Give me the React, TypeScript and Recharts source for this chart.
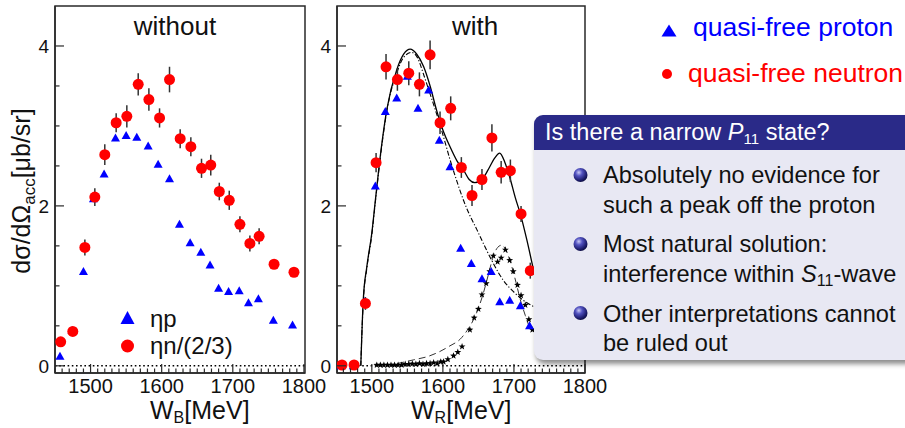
import React from 'react'
import {
  ComposedChart, Scatter, Line, XAxis, YAxis, ErrorBar, ReferenceLine, ReferenceArea,
} from 'recharts'

const FONT = '"Liberation Sans", Arial, Helvetica, sans-serif'
const AXIS = '#2a2a2a'
const BLUE = '#0000ff'
const RED = '#ff0000'

// ---- "without" panel (W_B) ----
const WB_P_X = [1457, 1474, 1490, 1504, 1519, 1535, 1550, 1565, 1581, 1595, 1611, 1625, 1640, 1655, 1668, 1680, 1694, 1709, 1722, 1736, 1757, 1784]
const WB_P_Y = [0.12, 0.44, 1.18, 2.09, 2.40, 2.85, 2.88, 2.86, 2.75, 2.52, 2.34, 1.77, 1.54, 1.42, 1.26, 0.97, 0.93, 0.94, 0.79, 0.84, 0.57, 0.51]
const WB_N_X = [1458, 1475, 1492, 1506, 1520, 1536, 1551, 1567, 1582, 1597, 1611, 1626, 1641, 1656, 1669, 1681, 1695, 1710, 1724, 1737, 1758, 1786]
const WB_N_Y = [0.30, 0.43, 1.48, 2.11, 2.64, 3.04, 3.12, 3.52, 3.33, 3.10, 3.58, 2.84, 2.74, 2.47, 2.51, 2.18, 2.07, 1.77, 1.53, 1.62, 1.27, 1.17]
const WB_N_E = [0.03, 0.03, 0.10, 0.11, 0.13, 0.12, 0.14, 0.14, 0.14, 0.12, 0.16, 0.12, 0.12, 0.12, 0.13, 0.11, 0.12, 0.10, 0.10, 0.10, 0.06, 0.06]

// ---- "with" panel (W_R) ----
const WR_P_X = [1457, 1474, 1490, 1505, 1519, 1535, 1550, 1565, 1580, 1595, 1610, 1625, 1640, 1655, 1668, 1680, 1694, 1709, 1722]
const WR_P_Y = [0.0, 0.0, 0.80, 2.25, 3.18, 3.35, 3.62, 3.22, 3.45, 2.82, 2.49, 1.47, 1.28, 1.09, 1.18, 0.80, 0.82, 0.75, 0.50]
const WR_N_X = [1458, 1475, 1491, 1506, 1520, 1536, 1552, 1567, 1582, 1596, 1611, 1626, 1641, 1655, 1669, 1682, 1695, 1710, 1723]
const WR_N_Y = [0.01, 0.01, 0.78, 2.54, 3.74, 3.58, 3.66, 3.52, 3.89, 3.04, 3.22, 2.48, 2.13, 2.33, 2.85, 2.42, 2.44, 1.90, 1.19]
const WR_N_E = [0.02, 0.02, 0.08, 0.12, 0.16, 0.14, 0.15, 0.15, 0.18, 0.14, 0.15, 0.13, 0.13, 0.13, 0.17, 0.14, 0.14, 0.10, 0.10]

// fit curves
const FULL_X = [1484.5, 1486, 1488, 1493, 1500, 1505, 1513, 1521, 1535, 1545, 1554, 1563, 1573, 1582, 1591, 1600, 1610, 1620, 1629, 1637, 1645, 1655, 1666, 1673, 1680, 1687, 1695, 1702, 1709, 1718, 1727]
const FULL_Y = [0, 0.4, 0.83, 1.24, 1.66, 2.07, 2.7, 3.2, 3.7, 3.9, 3.96, 3.9, 3.74, 3.5, 3.2, 2.95, 2.74, 2.56, 2.45, 2.33, 2.29, 2.33, 2.49, 2.6, 2.66, 2.55, 2.33, 2.1, 1.9, 1.58, 1.22]
const S11_X = [1484.5, 1486, 1488, 1493, 1500, 1505, 1513, 1521, 1535, 1545, 1556, 1565, 1573, 1582, 1594, 1602, 1610, 1620, 1629, 1638, 1648, 1657, 1671, 1685, 1699, 1713, 1730]
const S11_Y = [0, 0.4, 0.8, 1.22, 1.64, 2.05, 2.68, 3.18, 3.66, 3.86, 3.92, 3.84, 3.64, 3.4, 3.07, 2.83, 2.58, 2.3, 2.07, 1.88, 1.7, 1.53, 1.28, 1.07, 0.93, 0.82, 0.73]
const P11_X = [1505, 1530, 1559, 1580, 1596, 1610, 1624, 1634, 1643, 1650, 1657, 1664, 1671, 1677, 1683, 1690, 1697, 1703, 1709, 1716, 1723]
const P11_Y = [0, 0.02, 0.075, 0.12, 0.18, 0.25, 0.33, 0.44, 0.575, 0.72, 0.91, 1.14, 1.37, 1.48, 1.51, 1.42, 1.24, 1.04, 0.825, 0.63, 0.45]
const STAR_X = [1507, 1512, 1517, 1522, 1527, 1532, 1537, 1542, 1547, 1552, 1557, 1562, 1567, 1572, 1577, 1582, 1587, 1592, 1597, 1601, 1607, 1615, 1621, 1627, 1638, 1644, 1650, 1655, 1661, 1666, 1671, 1677, 1682, 1688, 1694, 1699, 1705, 1710, 1716, 1721, 1726]
const STAR_Y = [0.01, 0.01, 0.01, 0.01, 0.01, 0.01, 0.01, 0.01, 0.02, 0.02, 0.025, 0.02, 0.03, 0.02, 0.03, 0.03, 0.04, 0.03, 0.05, 0.05, 0.08, 0.125, 0.17, 0.24, 0.45, 0.6, 0.71, 0.89, 1.03, 1.18, 1.375, 1.3, 1.35, 1.45, 1.32, 1.18, 1.01, 0.88, 0.76, 0.58, 0.45]

const X_MAJOR = [1500, 1600, 1700, 1800]
const Y_MAJOR = [0, 2, 4]
const Y_DOMAIN: [number, number] = [-0.09, 4.5]

const pts = (xs: number[], ys: number[], es?: number[]) =>
  xs.map((x, i) => ({ x, y: ys[i], e: es ? es[i] : 0 }))

const minorTicks = (lo: number, hi: number, step: number) => {
  const t: number[] = []
  for (let v = Math.ceil(lo / step) * step; v <= hi + 1e-9; v += step) t.push(Math.round(v * 100) / 100)
  return t
}

function XTick({ x, y, payload }: any) {
  const major = X_MAJOR.includes(payload.value)
  return (
    <g>
      <line x1={x} x2={x} y1={y} y2={y - (major ? 9 : 4.5)} stroke={AXIS} strokeWidth={1.2} />
      {major && (
        <text x={x} y={y + 20} textAnchor="middle" fontSize={20} fontFamily={FONT} fill="#111">
          {payload.value}
        </text>
      )}
    </g>
  )
}

function YTick({ x, y, payload }: any) {
  const major = Y_MAJOR.includes(payload.value)
  return (
    <g>
      <line x1={x} x2={x + (major ? 9 : 4.5)} y1={y} y2={y} stroke={AXIS} strokeWidth={1.2} />
      {major && (
        <text x={x - 6} y={y + 7} textAnchor="end" fontSize={19} fontFamily={FONT} fill="#111">
          {payload.value}
        </text>
      )}
    </g>
  )
}

const Tri = ({ cx, cy }: any) => (
  <polygon points={`${cx},${cy - 4.5} ${cx + 4.5},${cy + 3.5} ${cx - 4.5},${cy + 3.5}`} fill={BLUE} />
)
const Dot = ({ cx, cy }: any) => <circle cx={cx} cy={cy} r={5.5} fill={RED} />
const Star = ({ cx, cy }: any) => {
  const p: string[] = []
  for (let k = 0; k < 10; k++) {
    const r = k % 2 === 0 ? 3.6 : 1.5
    const a = -Math.PI / 2 + (k * Math.PI) / 5
    p.push(`${cx + r * Math.cos(a)},${cy + r * Math.sin(a)}`)
  }
  return <polygon points={p.join(' ')} fill="#000" />
}

function Panel({ xDomain, width, rightMargin, children }: any) {
  return (
    <ComposedChart width={width} height={428} margin={{ top: 6, right: rightMargin, bottom: 0, left: 0 }}>
      <XAxis
        type="number" dataKey="x" domain={xDomain} allowDataOverflow
        ticks={minorTicks(xDomain[0], xDomain[1], 10)} interval={0}
        tickSize={0} tickMargin={0} tickLine={false} tick={(p: any) => <XTick {...p} />}
        height={55} axisLine={{ stroke: AXIS, strokeWidth: 1.5 }}
      />
      <YAxis
        type="number" dataKey="y" domain={Y_DOMAIN} allowDataOverflow
        ticks={minorTicks(0, 4, 0.5)} interval={0}
        tickSize={0} tickMargin={0} tickLine={false} tick={(p: any) => <YTick {...p} />}
        width={55} axisLine={{ stroke: AXIS, strokeWidth: 1.5 }}
      />
      <ReferenceArea x1={xDomain[0]} x2={xDomain[1]} y1={Y_DOMAIN[0]} y2={Y_DOMAIN[1]}
        fill="none" fillOpacity={0} stroke={AXIS} strokeWidth={1.5} ifOverflow="visible" />
      <ReferenceLine y={0} stroke="#000" strokeWidth={1.6} strokeDasharray="1.6 2.6" />
      {children}
    </ComposedChart>
  )
}

export default function App() {
  return (
    <div style={{ position: 'fixed', left: 0, top: 0, width: 905, height: 428, background: '#fff', overflow: 'hidden', fontFamily: FONT }}>
      <div style={{ position: 'absolute', left: 0, top: 0 }}>
        <Panel xDomain={[1450, 1801.5]} width={340} rightMargin={35}>
          <Scatter data={pts(WB_P_X, WB_P_Y)} shape={<Tri />} isAnimationActive={false} />
          <Scatter data={pts(WB_N_X, WB_N_Y, WB_N_E)} shape={<Dot />} isAnimationActive={false}>
            <ErrorBar dataKey="e" direction="y" width={0} stroke="#333" strokeWidth={1.5} />
          </Scatter>
        </Panel>
      </div>
      <div style={{ position: 'absolute', left: 282, top: 0 }}>
        <Panel xDomain={[1451, 1800]} width={340} rightMargin={37}>
          <Line data={pts(P11_X, P11_Y)} dataKey="y" type="monotone" stroke="#333" strokeWidth={1} strokeDasharray="7 4" dot={false} isAnimationActive={false} />
          <Line data={pts(S11_X, S11_Y)} dataKey="y" type="monotone" stroke="#000" strokeWidth={1.1} strokeDasharray="5 2 1.2 2" dot={false} isAnimationActive={false} />
          <Line data={pts(FULL_X, FULL_Y)} dataKey="y" type="monotone" stroke="#000" strokeWidth={1.3} dot={false} isAnimationActive={false} />
          <Scatter data={pts(STAR_X, STAR_Y)} shape={<Star />} isAnimationActive={false} />
          <Scatter data={pts(WR_P_X, WR_P_Y)} shape={<Tri />} isAnimationActive={false} />
          <Scatter data={pts(WR_N_X, WR_N_Y, WR_N_E)} shape={<Dot />} isAnimationActive={false}>
            <ErrorBar dataKey="e" direction="y" width={0} stroke="#333" strokeWidth={1.5} />
          </Scatter>
        </Panel>
      </div>

      <svg width={905} height={428} style={{ position: 'absolute', left: 0, top: 0 }} fontFamily={FONT}>
        <text x={175} y={35} textAnchor="middle" fontSize={26} fill="#111">without</text>
        <text x={475} y={35} textAnchor="middle" fontSize={26} fill="#111">with</text>
        <text transform="translate(30,191) rotate(-90)" textAnchor="middle" fontSize={25} fill="#111">
          dσ/dΩ<tspan fontSize={17} dy={5}>acc</tspan><tspan dy={-5}>[μb/sr]</tspan>
        </text>
        <text x={150} y={419} fontSize={25} fill="#111">
          W<tspan fontSize={16} dy={4}>B</tspan><tspan dy={-4}>[MeV]</tspan>
        </text>
        <text x={411} y={419} fontSize={25} fill="#111">
          W<tspan fontSize={16} dy={4}>R</tspan><tspan dy={-4}>[MeV]</tspan>
        </text>
        <polygon points="127.5,311 134.5,324 120.5,324" fill={BLUE} />
        <text x={150} y={327} fontSize={24} fill="#111">ηp</text>
        <circle cx={127.5} cy={346} r={6.5} fill={RED} />
        <text x={150} y={354} fontSize={24} fill="#111">ηn/(2/3)</text>
        <polygon points="669,24.5 676.5,36.5 661.5,36.5" fill={BLUE} />
        <text x={693} y={36} fontSize={26.5} fill={BLUE}>quasi-free proton</text>
        <circle cx={667} cy={74} r={5} fill={RED} />
        <text x={688} y={82} fontSize={26.5} fill={RED}>quasi-free neutron</text>
      </svg>

      <div style={{ position: 'absolute', left: 534, top: 115, width: 390, height: 245, background: '#e8e8f3', borderRadius: '9px 0 0 9px', boxShadow: '2px 4px 5px rgba(0,0,0,0.45)', overflow: 'hidden' }}>
        <div style={{ height: 35, background: '#2a2a88' }} />
      </div>
      <svg width={905} height={428} style={{ position: 'absolute', left: 0, top: 0 }} fontFamily={FONT}>
        <defs>
          <radialGradient id="ball" cx="0.38" cy="0.32" r="0.7">
            <stop offset="0" stopColor="#c8c8f4" />
            <stop offset="0.35" stopColor="#5252c0" />
            <stop offset="0.8" stopColor="#1c1c6c" />
            <stop offset="1" stopColor="#0c0c40" />
          </radialGradient>
        </defs>
        <text x={545} y={139.5} fontSize={23.5} fill="#fff">
          Is there a narrow <tspan fontStyle="italic">P</tspan><tspan fontSize={15} dy={4}>11</tspan><tspan dy={-4}> state?</tspan>
        </text>
        <circle cx={580.5} cy={175} r={7} fill="url(#ball)" />
        <circle cx={580.5} cy={244} r={7} fill="url(#ball)" />
        <circle cx={580.5} cy={313} r={7} fill="url(#ball)" />
        <g fontSize={23.6} fill="#111">
          <text x={603} y={183}>Absolutely no evidence for</text>
          <text x={603} y={212.5}>such a peak off the proton</text>
          <text x={603} y={252}>Most natural solution:</text>
          <text x={603} y={281.5}>interference within <tspan fontStyle="italic">S</tspan><tspan fontSize={16} dy={4}>11</tspan><tspan dy={-4}>-wave</tspan></text>
          <text x={603} y={321.5}>Other interpretations cannot</text>
          <text x={603} y={350.5}>be ruled out</text>
        </g>
      </svg>
    </div>
  )
}
